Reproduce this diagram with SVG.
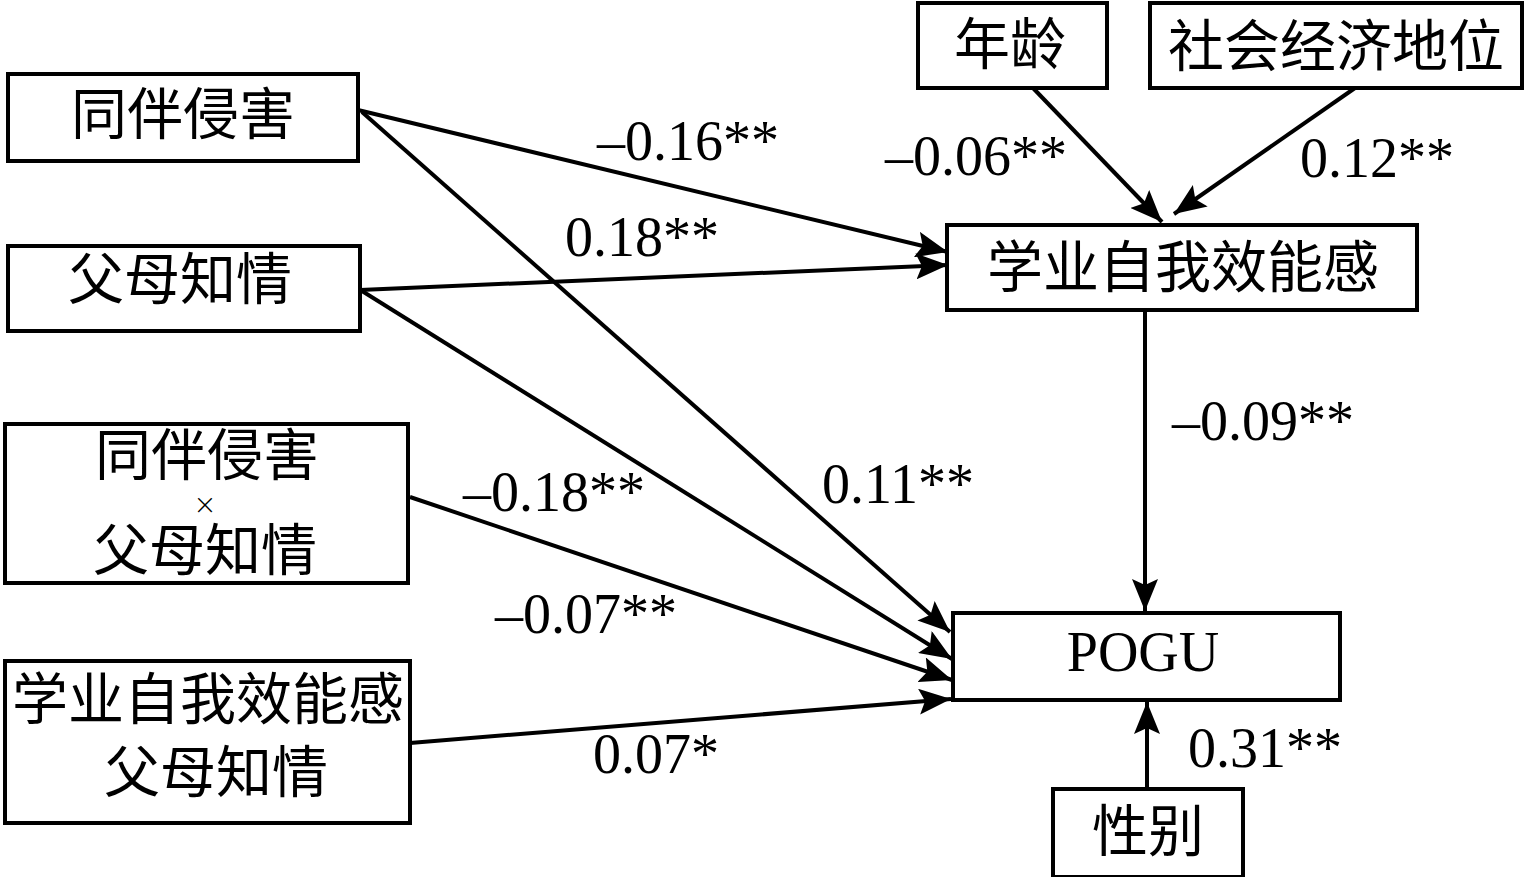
<svg xmlns="http://www.w3.org/2000/svg" width="1526" height="877" viewBox="0 0 1526 877">
<style>
.box{fill:#fff;stroke:#000;stroke-width:4}
.t{font-family:"Liberation Serif","Noto Sans CJK SC",serif;font-size:56px;fill:#000;text-anchor:middle;dominant-baseline:central}
.x{font-family:"DejaVu Sans",sans-serif;font-size:28px;font-weight:300;fill:#000;text-anchor:middle;dominant-baseline:central}
.n{font-family:"Liberation Serif","Noto Sans CJK SC",serif;font-size:56px;fill:#000}
.c line{stroke:#000;stroke-width:4;marker-end:url(#ah)}
</style>
<defs>
<marker id="ah" markerUnits="userSpaceOnUse" markerWidth="34" markerHeight="26" refX="32" refY="13" orient="auto">
<path d="M0,0 L32,13 L0,26 L6,13 Z" fill="#000"/>
</marker>
</defs>
<rect width="1526" height="877" fill="#fff"/>
<g id="n1"><rect class="box" x="8" y="74" width="350" height="87"/><text class="t" x="183" y="115">同伴侵害</text></g>
<g id="n2"><rect class="box" x="8" y="246" width="352" height="85"/><text class="t" x="180" y="280">父母知情</text></g>
<g id="n3"><rect class="box" x="5" y="424" width="403" height="159"/><text class="t" x="207" y="456">同伴侵害</text><text class="x" x="205" y="504">×</text><text class="t" x="205" y="551">父母知情</text></g>
<g id="n4"><rect class="box" x="5" y="661" width="405" height="162"/><text class="t" x="208" y="700">学业自我效能感</text><text class="t" x="216" y="773">父母知情</text></g>
<g id="n5"><rect class="box" x="918" y="3" width="189" height="85"/><text class="t" x="1010" y="45">年龄</text></g>
<g id="n6"><rect class="box" x="1150" y="3" width="372" height="85"/><text class="t" x="1336" y="47">社会经济地位</text></g>
<g id="n7"><rect class="box" x="947" y="225" width="470" height="85"/><text class="t" x="1183" y="268">学业自我效能感</text></g>
<g id="n8"><rect class="box" x="953" y="613" width="387" height="87"/><text class="t" x="1143" y="652">POGU</text></g>
<g id="n9"><rect class="box" x="1053" y="789" width="190" height="88"/><text class="t" x="1148" y="832">性别</text></g>
<g class="c" id="connectors">
<line x1="358" y1="110" x2="948" y2="252"/>
<line x1="362" y1="112" x2="950" y2="632"/>
<line x1="360" y1="290" x2="948" y2="265"/>
<line x1="362" y1="291" x2="952" y2="659"/>
<line x1="410" y1="497" x2="952" y2="680"/>
<line x1="410" y1="743" x2="951" y2="699"/>
<line x1="1033" y1="88" x2="1162" y2="222"/>
<line x1="1355" y1="88" x2="1174" y2="214"/>
<line x1="1145" y1="310" x2="1145" y2="611"/>
<line x1="1147" y1="789" x2="1147" y2="702"/>
</g>
<g id="labels">
<text class="n" x="597" y="160">–0.16**</text>
<text class="n" x="565" y="256">0.18**</text>
<text class="n" x="885" y="175">–0.06**</text>
<text class="n" x="1300" y="177">0.12**</text>
<text class="n" x="1172" y="440">–0.09**</text>
<text class="n" x="822" y="503">0.11**</text>
<text class="n" x="463" y="511">–0.18**</text>
<text class="n" x="495" y="633">–0.07**</text>
<text class="n" x="593" y="773">0.07*</text>
<text class="n" x="1188" y="767">0.31**</text>
</g>
</svg>
